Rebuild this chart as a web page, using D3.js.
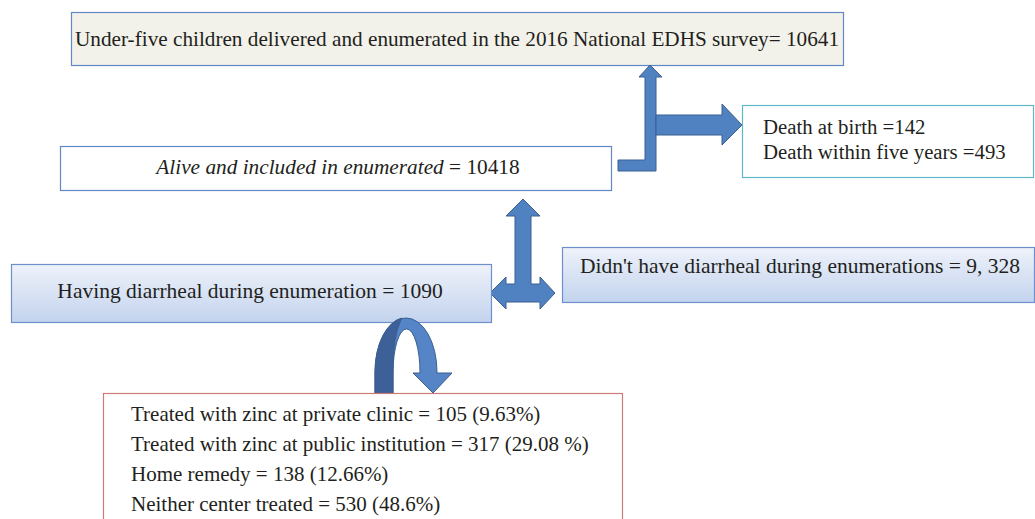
<!DOCTYPE html>
<html>
<head>
<meta charset="utf-8">
<script src="https://cdn.jsdelivr.net/npm/d3@7"></script>
<style>
    body { margin: 0; background: #fff; }
    svg { display: block; }
    text { font-family: "Liberation Serif", "Times New Roman", serif; fill: #231f20; }
</style>
</head>
<body>
<div id="chart"></div>
<script>
// ---- flow chart text ----
const topLabel = "Under-five children delivered and enumerated in the 2016 National EDHS survey= 10641";
const aliveLabel = ["Alive and included in enumerated", " = 10418"];
const deathLines = ["Death at birth =142", "Death within five years =493"];
const diarrLabel = "Having diarrheal during enumeration = 1090";
const noDiarrLabel = "Didn't have diarrheal during enumerations = 9, 328";
const treatLines = [
    "Treated with zinc at private clinic = 105 (9.63%)",
    "Treated with zinc at public institution = 317 (29.08 %)",
    "Home remedy = 138 (12.66%)",
    "Neither center treated = 530 (48.6%)"
];

const width = 1035, height = 519;
const arrowFill = "#5082c2", arrowStroke = "#3a5f90";

let svg = d3.select("#chart").append("svg")
    .attr("width", width)
    .attr("height", height);

let defs = svg.append("defs");
let grad = defs.append("linearGradient")
    .attr("id", "blueGrad")
    .attr("x1", "0%").attr("x2", "0%")
    .attr("y1", "0%").attr("y2", "100%");
grad.append("stop").attr("offset", "0%").attr("stop-color", "#eef2fa");
grad.append("stop").attr("offset", "100%").attr("stop-color", "#c3d3ee");

// helper for boxes
function box(x, y, w, h, fill, stroke) {
    return svg.append("rect")
        .attr("x", x + 0.5).attr("y", y + 0.5)
        .attr("width", w).attr("height", h)
        .attr("fill", fill)
        .attr("stroke", stroke)
        .attr("stroke-width", 1.2);
}

// helper for arrows (polygons)
function arrow(points, fill) {
    return svg.append("path")
        .attr("d", d3.line()(points) + "Z")
        .attr("fill", fill || arrowFill)
        .attr("stroke", arrowStroke)
        .attr("stroke-width", 1);
}

// ---- top box ----
box(71, 12, 772, 53, "#f2f2ea", "#5f88c4");
svg.append("text")
    .attr("x", 75).attr("y", 46)
    .attr("font-size", 21)
    .attr("textLength", 764)
    .attr("lengthAdjust", "spacingAndGlyphs")
    .text(topLabel);

// ---- alive box ----
box(60, 146, 551, 44, "#ffffff", "#5f88c4");
let alive = svg.append("text")
    .attr("x", 338).attr("y", 174)
    .attr("text-anchor", "middle")
    .attr("font-size", 21.3);
alive.append("tspan").attr("font-style", "italic").text(aliveLabel[0]);
alive.append("tspan").text(aliveLabel[1]);

// ---- bent up arrow from alive box to top box ----
arrow([[618, 160], [645, 160], [645, 77], [639, 77], [650, 65], [662, 77],
       [656, 77], [656, 171], [618, 171]]);

// ---- right arrow to death box ----
arrow([[656, 115], [722, 115], [722, 104], [742, 125], [722, 145], [722, 135], [656, 135]]);

// ---- death box ----
box(742, 105, 291, 72, "#ffffff", "#62b6cc");
svg.selectAll(".death")
    .data(deathLines)
    .enter().append("text")
    .attr("class", "death")
    .attr("x", 763)
    .attr("y", (d, i) => 134 + i * 25)
    .attr("font-size", 20.8)
    .text(d => d);

// ---- double arrow (up, left, right) ----
arrow([[523, 199], [540, 216], [531, 216], [531, 284], [540, 284], [540, 277],
       [555, 293], [540, 309], [540, 302], [506, 302], [506, 309], [490, 293],
       [506, 277], [506, 284], [515, 284], [515, 216], [506, 216]]);

// ---- having diarrheal box ----
box(11, 264, 480, 58, "url(#blueGrad)", "#6d8fcc");
svg.append("text")
    .attr("x", 250).attr("y", 298)
    .attr("text-anchor", "middle")
    .attr("font-size", 21.5)
    .text(diarrLabel);

// ---- didn't have diarrheal box ----
box(562, 247, 472, 55, "url(#blueGrad)", "#6d8fcc");
svg.append("text")
    .attr("x", 580).attr("y", 273)
    .attr("font-size", 21.5)
    .text(noDiarrLabel);

// ---- curved arrow down into treatment box ----
let curve = svg.append("g");
// light ribbon: outer arc over to right, arrowhead, inner arc back
curve.append("path")
    .attr("d", "M375,393 L375,372 A31,54 0 0 1 437,372 L437,373 L452,373 L433,393 L413,373 L420,373 A13,42 0 0 0 393,372 L393,393 Z")
    .attr("fill", "#5585c6")
    .attr("stroke", arrowStroke)
    .attr("stroke-width", 1);
// darker left leg
curve.append("path")
    .attr("d", "M375,393 L375,372 A31,54 0 0 1 402,318 C396,330 393,345 393,372 L393,393 Z")
    .attr("fill", "#3d6098")
    .attr("stroke", arrowStroke)
    .attr("stroke-width", 1);

// ---- treatment box ----
box(103, 393, 519, 140, "#ffffff", "#d07a78");
svg.selectAll(".treat")
    .data(treatLines)
    .enter().append("text")
    .attr("class", "treat")
    .attr("x", 131)
    .attr("y", (d, i) => 421 + i * 30)
    .attr("font-size", 21)
    .text(d => d);
</script>
</body>
</html>
